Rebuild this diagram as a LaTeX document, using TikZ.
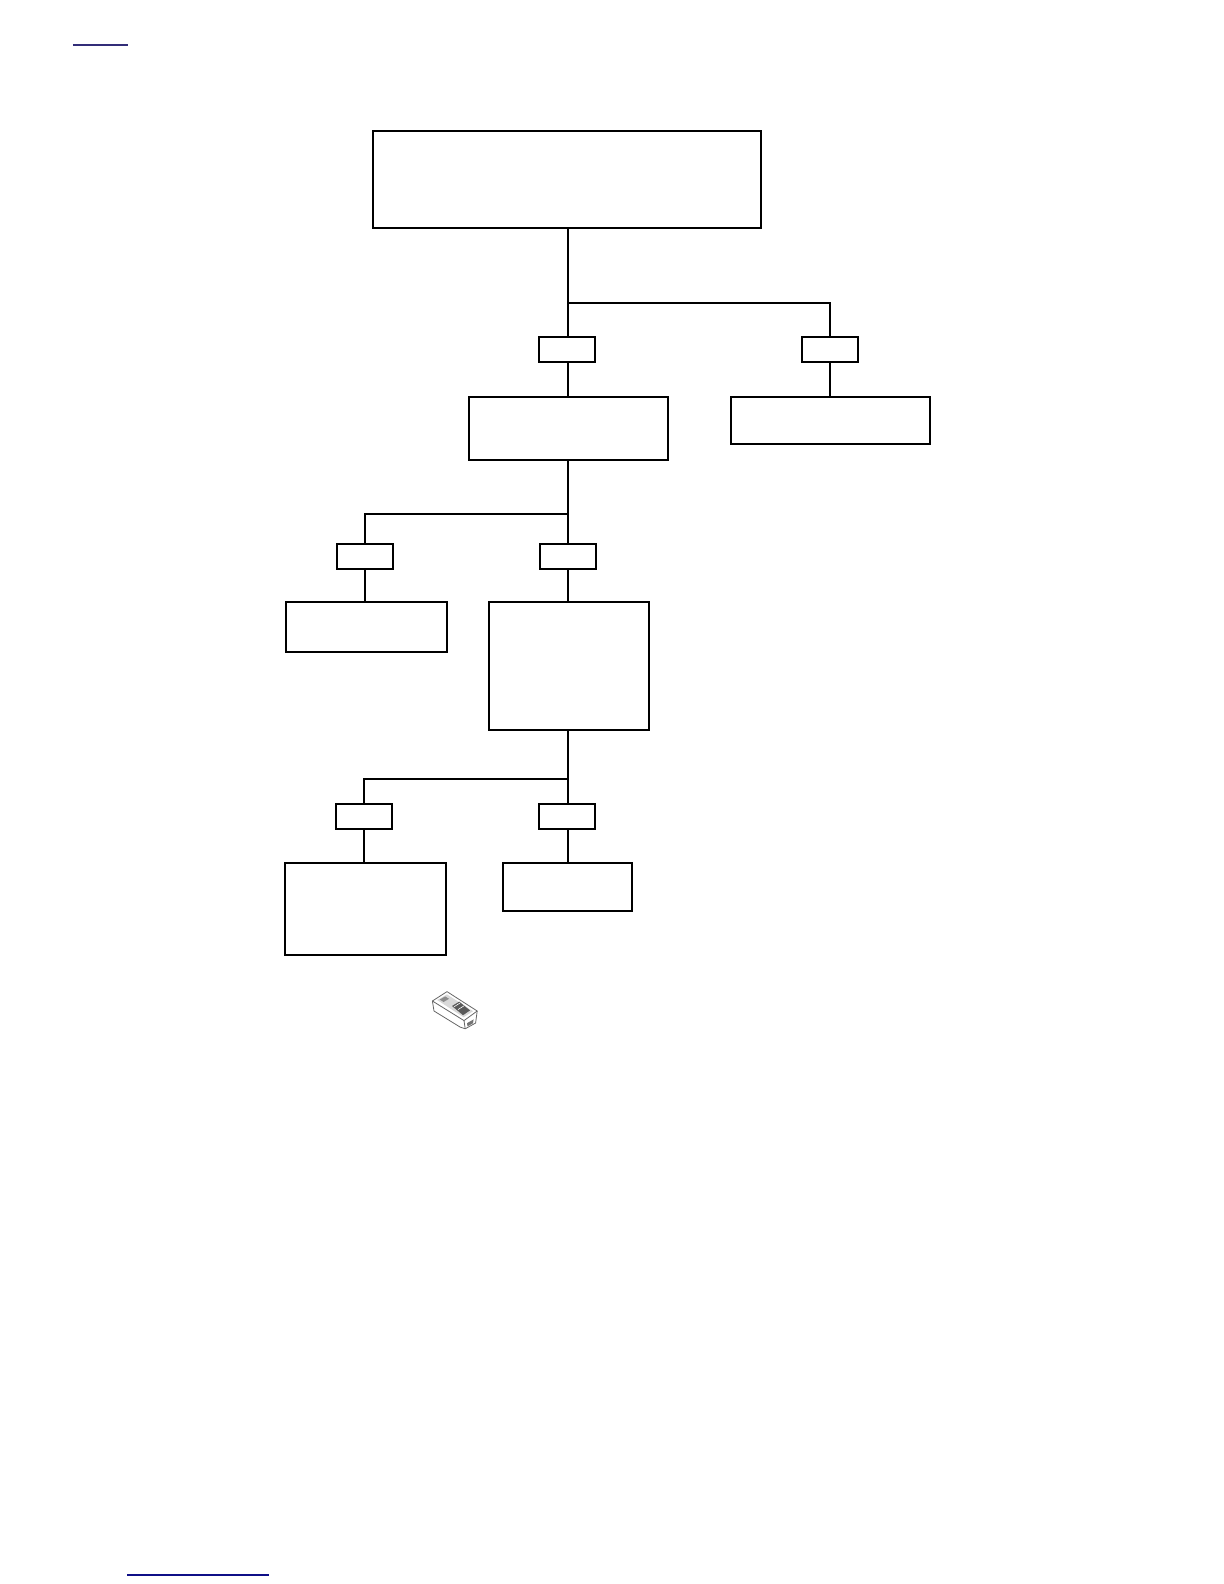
\documentclass[tikz,border=0pt]{standalone}
\usepackage{xcolor}
\usetikzlibrary{calc}
\definecolor{toplink}{RGB}{50,45,120}
\definecolor{botlink}{RGB}{15,15,135}

\tikzset{
    chartbox/.style={draw=black, line width=1pt, fill=white, outer sep=0pt, inner sep=0pt},
    tagbox/.style={chartbox, minimum width=28pt, minimum height=12.5pt},
    conn/.style={black, line width=1pt},
}

\begin{document}
\begin{tikzpicture}[x=1pt,y=-1pt]
    \useasboundingbox (0,0) rectangle (612,792);

    % main boxes
    \node[chartbox, minimum width=194pt, minimum height=48.5pt] (top) at (283.5,89.75) {};
    \node[chartbox, minimum width=99.5pt, minimum height=31.5pt] (mid) at (284.25,214.25) {};
    \node[chartbox, minimum width=99.5pt, minimum height=23.5pt] (side) at (415.25,210.25) {};
    \node[chartbox, minimum width=80.5pt, minimum height=25pt] (lowa) at (183.25,313.5) {};
    \node[chartbox, minimum width=80pt, minimum height=64pt] (lowb) at (284.5,333) {};
    \node[chartbox, minimum width=80.5pt, minimum height=46pt] (basea) at (182.75,454.5) {};
    \node[chartbox, minimum width=64.5pt, minimum height=24pt] (baseb) at (283.75,443.5) {};

    % small boxes
    \node[tagbox] (taga) at (283.5,174.75) {};
    \node[tagbox] (tagb) at (415,174.75) {};
    \node[tagbox] (tagc) at (182.5,278.25) {};
    \node[tagbox] (tagd) at (284,278.25) {};
    \node[tagbox] (tage) at (182,408.25) {};
    \node[tagbox] (tagf) at (283.5,408.25) {};

    % branch points
    \coordinate (joina) at (284,151.5);
    \coordinate (joinb) at (284,257);
    \coordinate (joinc) at (284,389.5);

    % connectors
    \draw[conn] (joina |- top.south) -- (joina |- taga.north);
    \draw[conn] (joina) -| (tagb.north);
    \draw[conn] (joina |- taga.south) -- (joina |- mid.north);
    \draw[conn] (tagb.south) -- (tagb.south |- side.north);

    \draw[conn] (joina |- mid.south) -- (joina |- tagd.north);
    \draw[conn] (joinb) -| (tagc.north);
    \draw[conn] (tagc.south) -- (tagc.south |- lowa.north);
    \draw[conn] (joina |- tagd.south) -- (joina |- lowb.north);

    \draw[conn] (joina |- lowb.south) -- (joina |- tagf.north);
    \draw[conn] (joinc) -| (tage.north);
    \draw[conn] (tage.south) -- (tage.south |- basea.north);
    \draw[conn] (joina |- tagf.south) -- (joina |- baseb.north);

    % page link rules
    \draw[toplink, line width=0.7pt] (36.4,22.5) -- (64,22.5);
    \draw[botlink, line width=0.7pt] (63.5,787.5) -- (134.5,787.5);

    % handheld device
    \draw[black!60, line width=0.4pt, fill=white, line join=round]
        (216.2,500.5) -- (223.5,495.8) -- (238.6,505.5) -- (237.8,511.5) -- (232.6,514.4)
        -- (230,513.5) -- (217,505.5) -- cycle;
    \draw[black!60, line width=0.4pt] (216.2,500.5) -- (232,510.3) -- (238.6,505.5);
    \draw[black!60, line width=0.4pt] (232,510.3) -- (232.6,514.4);
    \fill[black!15] (218.6,500) -- (223.5,497.2) -- (236.5,505.6) -- (231.8,508.6) -- cycle;
    \fill[black!65] (226,503) -- (229.6,500.8) -- (235,505.2) -- (231.5,507.6) -- cycle;
    \fill[black!45] (219.8,499.8) -- (222.6,498.2) -- (224.5,499.4) -- (221.8,501) -- cycle;
    \foreach \t in {0,1} {
        \draw[white, line width=0.3pt] ($(227,503.4)+(\t*2,\t*1.4)$) -- ++(3,-1.9);
    }
    \fill[black!55] (233.5,511.6) -- (236.8,509.7) -- (236.5,511.6) -- (233.8,513.2) -- cycle;
\end{tikzpicture}
\end{document}
